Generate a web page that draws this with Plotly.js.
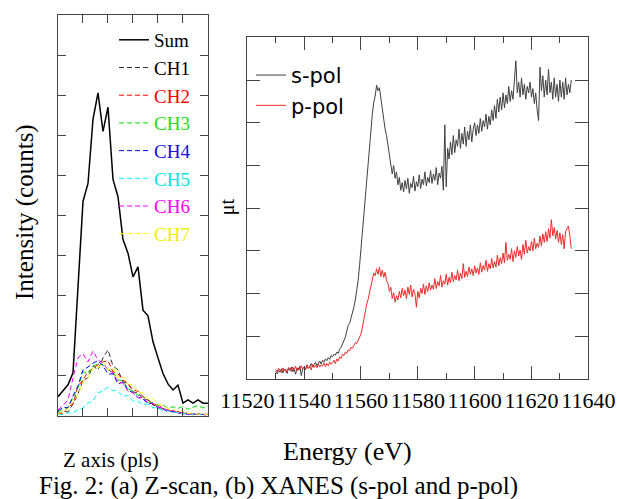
<!DOCTYPE html>
<html>
<head>
<meta charset="utf-8">
<script src="https://cdn.plot.ly/plotly-3.0.1.min.js"></script>
<style>html,body{margin:0;padding:0;background:#fff;}#chart{width:617px;height:499px;}</style>
</head>
<body>
<div id="chart"></div>
<script>
// ---- (a) Z-scan ----
var zPos = [0,2,4,6,8,10,12,14,16,18,20,22,24,26,28,30,32,34,36,38,40,42,44,46,48,50,52,54,56,58,60];
var zSum = [0.48,0.62,0.78,1.08,3.30,5.35,5.80,7.40,8.06,7.10,7.70,5.90,5.47,4.40,4.06,3.47,3.72,2.64,2.50,1.85,1.45,1.06,0.80,0.65,0.77,0.32,0.40,0.32,0.40,0.32,0.32];
var zCH1 = [0.05,0.12,0.10,0.30,0.55,0.90,0.95,1.25,1.15,1.45,1.65,1.25,1.15,0.85,0.82,0.60,0.58,0.42,0.40,0.28,0.24,0.15,0.14,0.09,0.10,0.05,0.06,0.03,0.05,0.03,0.04];
var zCH2 = [0.08,0.05,0.22,0.30,0.75,0.90,1.10,1.20,1.28,1.35,1.38,1.10,1.05,0.90,0.80,0.65,0.62,0.48,0.42,0.28,0.28,0.18,0.16,0.10,0.12,0.06,0.08,0.04,0.06,0.03,0.05];
var zCH3 = [0.10,0.18,0.22,0.45,0.70,1.10,1.05,1.25,1.30,1.28,1.15,1.10,0.90,0.88,0.68,0.62,0.52,0.48,0.35,0.33,0.26,0.27,0.20,0.23,0.19,0.24,0.17,0.22,0.26,0.20,0.25];
var zCH4 = [0.12,0.22,0.20,0.50,0.75,1.15,1.22,1.32,1.38,1.25,1.05,1.05,0.80,0.85,0.65,0.58,0.46,0.43,0.30,0.32,0.20,0.18,0.10,0.12,0.07,0.08,0.04,0.06,0.03,0.04,0.02];
var zCH5 = [0.05,0.03,0.08,0.08,0.15,0.20,0.32,0.38,0.58,0.62,0.72,0.64,0.62,0.48,0.52,0.38,0.37,0.28,0.30,0.20,0.22,0.13,0.14,0.09,0.10,0.05,0.07,0.04,0.05,0.03,0.04];
var zCH6 = [0.15,0.28,0.40,0.95,1.45,1.55,1.35,1.62,1.40,1.32,1.15,1.08,0.85,0.82,0.62,0.58,0.46,0.47,0.32,0.32,0.22,0.22,0.13,0.14,0.08,0.10,0.05,0.07,0.04,0.05,0.03];
var zCH7 = [0.05,0.12,0.18,0.38,0.52,0.85,0.95,1.20,1.20,1.35,1.15,1.20,0.95,0.98,0.80,0.78,0.60,0.58,0.42,0.42,0.28,0.27,0.18,0.17,0.10,0.12,0.06,0.08,0.04,0.06,0.03];
var chNames = ['CH1','CH2','CH3','CH4','CH5','CH6','CH7'];

// ---- (b) XANES ----
var energy = [
11530,11530.5,11531,11531.5,11532,11532.5,11533,11533.5,11534,11534.5,
11535,11535.5,11536,11536.5,11537,11537.5,11538,11538.5,11539,11539.5,
11540,11540.5,11541,11541.5,11542,11542.5,11543,11543.5,11544,11544.5,
11545,11545.5,11546,11546.5,11547,11547.5,11548,11548.5,11549,11549.5,
11550,11550.5,11551,11551.5,11552,11552.5,11553,11553.5,11554,11554.5,
11555,11555.5,11556,11556.5,11557,11557.5,11558,11558.5,11559,11559.5,
11560,11560.5,11561,11561.5,11562,11562.5,11563,11563.5,11564,11564.5,
11565,11565.5,11566,11566.5,11567,11567.5,11568,11568.5,11569,11569.5,
11570,11570.5,11571,11571.5,11572,11572.5,11573,11573.5,11574,11574.5,
11575,11575.5,11576,11576.5,11577,11577.5,11578,11578.5,11579,11579.5,
11580,11580.5,11581,11581.5,11582,11582.5,11583,11583.5,11584,11584.5,
11585,11585.5,11586,11586.5,11587,11587.5,11588,11588.5,11589,11589.5,
11590,11590.5,11591,11591.5,11592,11592.5,11593,11593.5,11594,11594.5,
11595,11595.5,11596,11596.5,11597,11597.5,11598,11598.5,11599,11599.5,
11600,11600.5,11601,11601.5,11602,11602.5,11603,11603.5,11604,11604.5,
11605,11605.5,11606,11606.5,11607,11607.5,11608,11608.5,11609,11609.5,
11610,11610.5,11611,11611.5,11612,11612.5,11613,11613.5,11614,11614.5,
11615,11615.5,11616,11616.5,11617,11617.5,11618,11618.5,11619,11619.5,
11620,11620.5,11621,11621.5,11622,11622.5,11623,11623.5,11624,11624.5,
11625,11625.5,11626,11626.5,11627,11627.5,11628,11628.5,11629,11629.5,
11630,11630.5,11631,11631.5,11632,11632.5,11633,11633.5,11634];
var sPol = [
0.18,0.12,0.20,0.16,0.24,0.14,0.22,0.19,0.13,0.25,
0.20,0.28,0.17,0.23,0.11,0.26,0.21,0.30,0.08,0.24,
0.27,0.22,0.33,0.25,0.30,0.36,0.28,0.34,0.39,0.31,
0.37,0.42,0.35,0.44,0.40,0.47,0.43,0.50,0.46,0.55,
0.52,0.58,0.56,0.63,0.60,0.70,0.74,0.82,0.88,0.98,
1.12,1.25,1.30,1.42,1.52,1.68,1.85,2.05,2.30,2.65,
3.05,3.50,3.90,4.25,4.70,5.05,5.45,5.90,6.20,6.48,
6.62,6.88,6.75,6.82,6.55,6.35,6.05,5.85,5.70,5.45,
5.20,5.05,4.80,5.00,4.70,4.85,4.55,4.72,4.42,4.60,
4.38,4.65,4.45,4.70,4.35,4.58,4.48,4.75,4.40,4.62,
4.50,4.78,4.46,4.68,4.55,4.85,4.52,4.72,4.60,4.88,
4.58,4.80,4.65,4.95,4.55,4.82,4.70,4.98,4.42,5.95,
4.50,5.40,5.15,5.55,5.25,5.70,5.30,5.60,5.45,5.85,
5.40,5.75,5.50,5.90,5.45,5.80,5.60,5.95,5.55,5.85,
6.00,5.70,5.95,5.75,6.10,5.80,6.05,5.90,6.20,5.85,
6.15,5.95,6.30,6.05,6.40,6.10,6.55,6.25,6.60,6.30,
6.70,6.35,6.65,6.45,6.85,6.50,6.75,6.55,6.95,7.45,
6.70,6.95,6.60,7.05,6.65,6.90,6.55,6.85,6.70,6.95,
6.60,6.80,6.45,6.70,6.30,6.05,7.30,6.75,7.10,6.60,
7.00,6.65,7.25,6.70,6.95,6.55,7.05,6.60,6.90,6.50,
7.00,6.60,6.95,6.55,7.05,6.65,6.90,6.70,7.00];
var pPol = [
0.22,0.17,0.25,0.20,0.15,0.26,0.19,0.23,0.16,0.27,
0.21,0.18,0.28,0.22,0.30,0.19,0.26,0.21,0.31,0.24,
0.28,0.22,0.33,0.25,0.30,0.21,0.34,0.27,0.32,0.26,
0.35,0.28,0.33,0.30,0.38,0.29,0.36,0.31,0.40,0.34,
0.38,0.44,0.36,0.47,0.42,0.52,0.48,0.58,0.55,0.63,
0.60,0.68,0.66,0.74,0.72,0.80,0.85,0.83,0.92,0.98,
1.05,1.20,1.42,1.60,1.75,1.86,2.02,2.15,2.32,2.48,
2.42,2.58,2.45,2.62,2.40,2.55,2.38,2.50,2.30,2.25,
2.05,2.15,1.88,2.02,1.80,1.95,1.85,2.05,1.90,2.12,
1.95,2.08,1.88,2.15,1.98,2.20,1.92,2.10,2.00,1.68,
2.05,1.90,2.12,2.00,2.22,1.98,2.18,2.05,2.25,2.08,
2.20,2.10,2.35,2.12,2.28,2.18,2.42,2.15,2.30,2.22,
2.45,2.20,2.38,2.25,2.50,2.28,2.42,2.32,2.55,2.30,
2.48,2.35,2.70,2.38,2.52,2.40,2.62,2.45,2.58,2.42,
2.65,2.48,2.60,2.45,2.72,2.50,2.66,2.55,2.78,2.52,
2.70,2.58,2.82,2.60,2.75,2.62,2.90,2.65,2.84,2.70,
2.95,2.72,3.20,2.78,2.92,2.80,3.05,2.75,3.00,2.85,
3.10,2.88,3.02,2.80,3.15,2.92,3.25,2.95,3.10,3.00,
3.22,3.00,3.30,3.05,3.18,3.08,3.35,3.12,3.40,3.20,
3.45,3.22,3.52,3.30,3.73,3.35,3.55,3.28,3.48,3.20,
3.42,3.15,3.38,3.05,3.45,3.50,3.58,3.35,3.05];
var energyTicks = [11520,11540,11560,11580,11600,11620,11640];

var serif = 'Liberation Serif, Times New Roman, serif';
var frame = '#444';
var chColors = ['#333333','#ff0000','#00e000','#0000ff','#00ffff','#ff00ff','#ffff00'];
var chText = ['#000000','#ff0000','#22dd22','#1010dd','#00e5e5','#ff00ff','#f0f000'];
var chData = [zCH1,zCH2,zCH3,zCH4,zCH5,zCH6,zCH7];

var traces = [];
traces.push({x: zPos, y: zSum, type: 'scatter', mode: 'lines', name: 'Sum',
  line: {color: '#000', width: 1.5}, xaxis: 'x', yaxis: 'y', legend: 'legend', legendgroup: 'g0'});
for (var i = 0; i < chData.length; i++) {
  traces.push({x: zPos, y: chData[i], type: 'scatter', mode: 'lines',
    name: '<span style="color:' + chText[i] + '">' + chNames[i] + '</span>',
    line: {color: chColors[i], width: 1, dash: '5px,3px'},
    xaxis: 'x', yaxis: 'y', legend: 'legend', legendgroup: 'g' + (i + 1)});
}
traces.push({x: energy, y: sPol, type: 'scatter', mode: 'lines', name: 's-pol',
  line: {color: '#404040', width: 1}, xaxis: 'x2', yaxis: 'y2', legend: 'legend2', legendgroup: 'h0'});
traces.push({x: energy, y: pPol, type: 'scatter', mode: 'lines', name: 'p-pol',
  line: {color: '#ee2a2a', width: 1}, xaxis: 'x2', yaxis: 'y2', legend: 'legend2', legendgroup: 'h1'});

function ax(extra) {
  var base = {showline: true, linecolor: frame, linewidth: 1, mirror: 'ticks', ticks: 'inside',
    tickcolor: frame, tickwidth: 1, showgrid: false, zeroline: false, showticklabels: false, fixedrange: true};
  for (var k in extra) base[k] = extra[k];
  return base;
}

var layout = {
  width: 617, height: 499,
  margin: {l: 0, r: 0, t: 0, b: 0},
  paper_bgcolor: '#fff', plot_bgcolor: '#fff',
  font: {family: serif, color: '#000'},
  xaxis: ax({domain: [0.0940, 0.3371], range: [0, 60], tick0: 0, dtick: 10, ticklen: 8, anchor: 'y'}),
  yaxis: ax({domain: [0.1663, 0.9699], range: [0, 10], tick0: 0, dtick: 1, ticklen: 8, anchor: 'x'}),
  xaxis2: ax({domain: [0.4008, 0.9535], range: [11520, 11640], tickmode: 'array', tickvals: energyTicks,
    ticktext: energyTicks.map(String), tickangle: 0, ticklen: 13,
    mirror: 'allticks', anchor: 'y2', showticklabels: true, tickfont: {family: serif, size: 22, color: '#000'},
    ticklabelstandoff: 2,
    minor: {tick0: 11520, dtick: 10, ticks: 'inside', ticklen: 6, tickcolor: frame, tickwidth: 1}}),
  yaxis2: ax({domain: [0.2405, 0.9252], range: [0, 8], tick0: 0, dtick: 1, ticklen: 13, anchor: 'x2'}),
  legend: {x: 0.1848, y: 0.958, xanchor: 'left', yanchor: 'top', bgcolor: 'rgba(0,0,0,0)',
    font: {family: serif, size: 19, color: '#000'}, traceorder: 'grouped', tracegroupgap: 0, itemwidth: 30},
  legend2: {x: 0.4068, y: 0.89, xanchor: 'left', yanchor: 'top', bgcolor: 'rgba(0,0,0,0)',
    font: {family: 'DejaVu Sans, sans-serif', size: 21, color: '#000'}, traceorder: 'grouped', tracegroupgap: 0, itemwidth: 30},
  showlegend: true,
  annotations: [
    {text: 'Intensity (counts)', xref: 'paper', yref: 'paper', x: 0.0405, y: 0.5752, textangle: -90,
      showarrow: false, xanchor: 'center', yanchor: 'middle', font: {family: serif, size: 25, color: '#000'}},
    {text: 'μt', xref: 'paper', yref: 'paper', x: 0.368, y: 0.585, textangle: -90,
      showarrow: false, xanchor: 'center', yanchor: 'middle', font: {family: serif, size: 20, color: '#000'}},
    {text: 'Z axis (pls)', xref: 'paper', yref: 'paper', x: 0.1807, y: 0.0782,
      showarrow: false, xanchor: 'center', yanchor: 'middle', font: {family: serif, size: 21, color: '#000'}},
    {text: 'Energy (eV)', xref: 'paper', yref: 'paper', x: 0.5624, y: 0.0942,
      showarrow: false, xanchor: 'center', yanchor: 'middle', font: {family: serif, size: 26, color: '#000'}},
    {text: 'Fig. 2: (a) Z-scan, (b) XANES (s-pol and p-pol)', xref: 'paper', yref: 'paper', x: 0.4506, y: 0.027,
      showarrow: false, xanchor: 'center', yanchor: 'middle', font: {family: serif, size: 25, color: '#000'}}
  ]
};

Plotly.newPlot('chart', traces, layout, {displayModeBar: false, staticPlot: true});
</script>
</body>
</html>
